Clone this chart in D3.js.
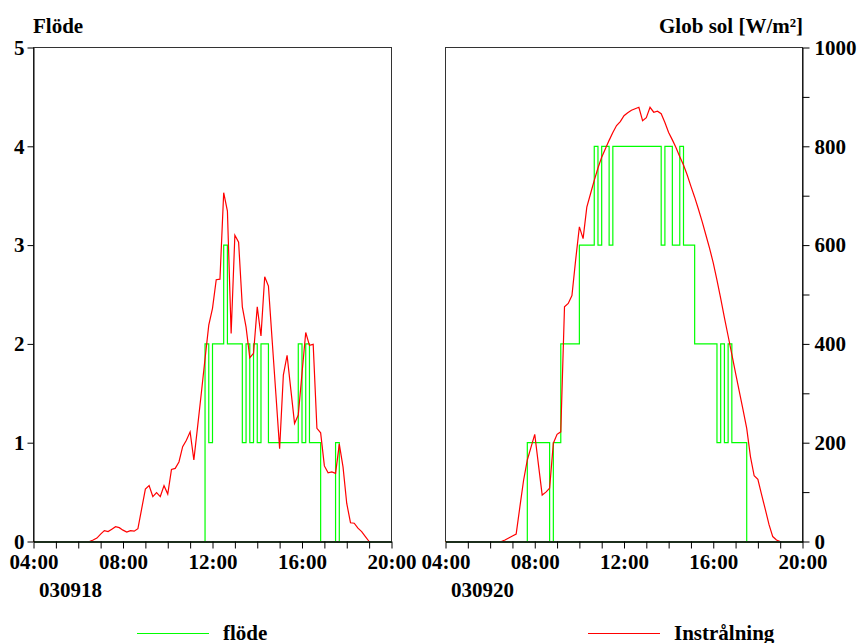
<!DOCTYPE html>
<html>
<head>
<meta charset="utf-8">
<script src="https://cdn.jsdelivr.net/npm/d3@7"></script>
<style>
  body { margin: 0; background: #fff; }
  svg text { font-family: "Liberation Serif", "Times New Roman", serif; font-weight: bold; font-size: 21px; fill: #000; }
</style>
</head>
<body>
<script>
// data: flow (step series, value at change time) and global radiation (W/m2, every 10 min)
const flode0918 = [["04:00",0],["11:40",2],["11:50",1],["12:00",2],["12:30",3],["12:40",2],["13:20",1],["13:30",2],
  ["13:40",1],["13:50",2],["14:00",1],["14:10",2],["14:30",1],["15:50",2],["16:00",1],["16:10",2],["16:20",1],
  ["16:50",0],["17:30",1],["17:40",0],["20:00",0]]

const flode0920 = [["04:00",0],["07:40",1],["08:40",0],["08:50",1],["09:10",2],["10:00",3],["10:40",4],["10:50",3],
  ["11:00",4],["11:20",3],["11:30",4],["13:40",3],["13:50",4],["14:10",3],["14:30",4],["14:40",3],["15:10",2],
  ["16:10",1],["16:20",2],["16:30",1],["16:40",2],["16:50",1],["17:30",0],["20:00",0]]

const sol0918 = [["04:00",0],["06:30",0],["06:40",3],["06:50",7],["07:00",15],["07:10",22],["07:20",20],["07:30",25],
  ["07:40",30],["07:50",28],["08:00",23],["08:10",19],["08:20",22],["08:30",21],["08:40",26],["08:50",66],
  ["09:00",106],["09:10",113],["09:20",91],["09:30",99],["09:40",91],["09:50",113],["10:00",96],["10:10",146],
  ["10:20",148],["10:30",161],["10:40",192],["10:50",205],["11:00",222],["11:10",165],["11:20",232],["11:30",300],
  ["11:40",370],["11:50",438],["12:00",472],["12:10",530],["12:20",531],["12:30",706],["12:40",669],["12:50",421],
  ["13:00",620],["13:10",606],["13:20",475],["13:30",434],["13:40",372],["13:50",381],["14:00",475],["14:10",416],
  ["14:20",536],["14:30",517],["14:40",407],["14:50",298],["15:00",188],["15:10",337],["15:20",377],["15:30",308],
  ["15:40",239],["15:50",256],["16:00",340],["16:10",423],["16:20",397],["16:30",399],["16:40",229],["16:50",220],
  ["17:00",153],["17:10",139],["17:20",141],["17:30",138],["17:40",197],["17:50",151],["18:00",77],["18:10",38],
  ["18:20",37],["18:30",27],["18:40",20],["18:50",10],["19:00",0],["20:00",0]]

const sol0920 = [["04:00",0],["06:30",0],["06:40",3],["06:50",7],["07:00",11],["07:10",15],["07:20",70],["07:30",124],
  ["07:40",165],["07:50",191],["08:00",217],["08:10",155],["08:20",94],["08:30",100],["08:40",108],["08:50",199],
  ["09:00",217],["09:10",222],["09:20",475],["09:30",482],["09:40",498],["09:50",570],["10:00",637],["10:10",613],
  ["10:20",677],["10:30",704],["10:40",731],["10:50",756],["11:00",778],["11:10",795],["11:20",812],["11:30",828],
  ["11:40",842],["11:50",850],["12:00",862],["12:10",868],["12:20",873],["12:30",876],["12:40",879],["12:50",852],
  ["13:00",858],["13:10",879],["13:20",869],["13:30",871],["13:40",866],["13:50",848],["14:00",828],["14:10",813],
  ["14:20",797],["14:30",779],["14:40",762],["14:50",742],["15:00",719],["15:10",697],["15:20",673],["15:30",648],
  ["15:40",621],["15:50",594],["16:00",564],["16:10",529],["16:20",492],["16:30",453],["16:40",416],["16:50",379],
  ["17:00",341],["17:10",304],["17:20",267],["17:30",229],["17:40",172],["17:50",133],["18:00",126],["18:10",95],
  ["18:20",65],["18:30",34],["18:40",10],["18:50",3],["19:00",0],["20:00",0]]

const hourTicks = d3.range(4, 21)
const hourLabels = ["04:00", "08:00", "12:00", "16:00", "20:00"]
const flowTicks = [0, 1, 2, 3, 4, 5]
const solTicks = d3.range(0, 1001, 100)
const solLabels = [0, 200, 400, 600, 800, 1000]

const GREEN = '#00ff00', RED = '#ff0000'
const TOP = 47.5, BOTTOM = 541.5

// "hh:mm" -> decimal hours
const hrs = (s) => { let p = s.split(':'); return +p[0] + p[1] / 60 }

let svg = d3.select('body').append('svg')
  .attr('width', 861)
  .attr('height', 643)

let yFlow = d3.scaleLinear().domain([0, 5]).range([BOTTOM, TOP])
let ySol = d3.scaleLinear().domain([0, 1000]).range([BOTTOM, TOP])

function panel(x0, x1, flode, sol, date) {
  let x = d3.scaleLinear().domain([4, 20]).range([x0, x1])
  let g = svg.append('g')

  // frame
  g.append('rect')
    .attr('x', x0).attr('y', TOP)
    .attr('width', x1 - x0).attr('height', BOTTOM - TOP)
    .attr('fill', 'none').attr('stroke', '#333').attr('stroke-width', 1)

  let flowLine = d3.line()
    .x((d) => x(hrs(d[0])))
    .y((d) => yFlow(d[1]))
    .curve(d3.curveStepAfter)
  let solLine = d3.line()
    .x((d) => x(hrs(d[0])))
    .y((d) => ySol(d[1]))

  g.append('path').datum(flode)
    .attr('d', flowLine)
    .attr('fill', 'none').attr('stroke', GREEN).attr('stroke-width', 1.2)
  g.append('path').datum(sol)
    .attr('d', solLine)
    .attr('fill', 'none').attr('stroke', RED).attr('stroke-width', 1.2)

  // x axis
  let ax = g.append('g')
    .attr('transform', 'translate(0,' + BOTTOM + ')')
    .call(d3.axisBottom(x)
      .tickValues(hourTicks)
      .tickSize(7)
      .tickSizeOuter(0)
      .tickPadding(6)
      .tickFormat((d) => d % 4 === 0 ? hourLabels[(d - 4) / 4] : ''))
  ax.select('.domain').attr('stroke', '#1c2e1c').attr('stroke-width', 2)
  ax.selectAll('.tick line').attr('stroke', '#000')
  ax.selectAll('text').attr('font-size', null).attr('font-family', null)

  g.append('text')
    .attr('x', x0 + 5.5)
    .attr('y', 597)
    .text(date)
  return x
}

panel(33.5, 391.5, flode0918, sol0918, '030918')
panel(445.5, 802.5, flode0920, sol0920, '030920')

// left flow axis
let la = svg.append('g')
  .attr('transform', 'translate(33.5,0)')
  .call(d3.axisLeft(yFlow).tickValues(flowTicks).tickSize(6).tickSizeOuter(0).tickPadding(3)
    .tickFormat(d3.format('d')))
la.select('.domain').attr('stroke', '#000')
la.selectAll('text').attr('font-size', null).attr('font-family', null)

// right radiation axis
let ra = svg.append('g')
  .attr('transform', 'translate(802.5,0)')
  .call(d3.axisRight(ySol).tickValues(solTicks).tickSize(7).tickSizeOuter(0).tickPadding(5)
    .tickFormat((d) => solLabels.includes(d) ? d : ''))
ra.select('.domain').attr('stroke', '#000')
ra.selectAll('text').attr('font-size', null).attr('font-family', null)

// titles
svg.append('text').attr('x', 33).attr('y', 33).text('Flöde')
svg.append('text').attr('x', 803).attr('y', 33).attr('text-anchor', 'end').text('Glob sol [W/m²]')

// legend
let legend = [{ label: 'flöde', color: GREEN, x: 137 }, { label: 'Instrålning', color: RED, x: 588 }]
let lg = svg.selectAll('.legend').data(legend).enter().append('g')
  .attr('class', 'legend')
  .attr('transform', (d) => 'translate(' + d.x + ',633.5)')
lg.append('line')
  .attr('x1', 0).attr('x2', 72)
  .attr('stroke', (d) => d.color).attr('stroke-width', 1)
lg.append('text')
  .attr('x', 86).attr('y', 6)
  .text((d) => d.label)
</script>
</body>
</html>
